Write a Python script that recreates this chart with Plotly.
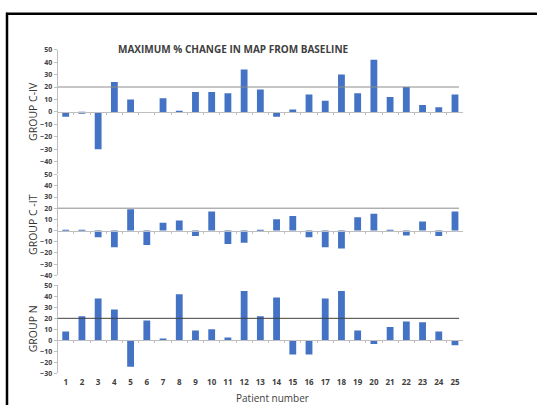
import plotly.graph_objects as go

W, H = 537, 409

patients = list(range(1, 26))
group_c_iv = [-4, -1, -30, 24, 10, 0, 11, 1, 16, 16, 15, 34, 18, -4, 2, 14, 9, 30, 15, 42, 12, 20, 5.5, 3.7, 14]
group_c_it = [0.5, 0.5, -6, -15, 19, -13, 7, 9, -5, 17, -12, -11, 0.5, 10, 13, -6, -15, -16, 12, 15, 0.5, -4.5, 8, -5, 17]
group_n = [8, 22, 38, 28, -24, 18, 1, 42, 9, 10, 2.5, 45, 22, 39, -13, -13, 38, 45, 9, -3.5, 12, 17, 16.5, 8, -4.5]
THRESHOLD = 20

panel_titles = ["GROUP C-IV", "GROUP C -IT", "GROUP N"]
panel_values = [group_c_iv, group_c_it, group_n]
panel_ranges = [[-50, 50], [-40, 50], [-30, 50]]
tick_lists = [list(range(-40, 51, 10)), list(range(-40, 51, 10)), list(range(-30, 51, 10))]

BAR = "#4472C4"
AX = "#BFBFBF"
TXT = "#404040"


def py(pix):
    # pixel row -> paper fraction
    return (H - pix) / H


def px(pix):
    return pix / W


x_dom = [px(57.6), px(463.1)]
# (top pixel of range max, bottom pixel of range min) per panel
panel_pix = [(45.7, 172.9), (173.5, 276.3), (286.7, 376.5)]
threshold_colors = ["#8C8C8C", "#8C8C8C", "#404040"]

fig = go.Figure()
layout = dict(
    width=W, height=H,
    margin=dict(l=0, r=0, t=0, b=0),
    paper_bgcolor="white", plot_bgcolor="white",
    showlegend=False, bargap=0.58,
    shapes=[], annotations=[],
)

for i, (vals, rng, ticks, (top, bot)) in enumerate(zip(panel_values, panel_ranges, tick_lists, panel_pix)):
    n = i + 1
    xa = "x" if n == 1 else f"x{n}"
    ya = "y" if n == 1 else f"y{n}"
    xk = "xaxis" if n == 1 else f"xaxis{n}"
    yk = "yaxis" if n == 1 else f"yaxis{n}"
    dom = [py(bot), py(top)]
    zero_pos = dom[0] + (0 - rng[0]) / (rng[1] - rng[0]) * (dom[1] - dom[0])

    fig.add_trace(go.Bar(x=patients, y=vals, xaxis=xa, yaxis=ya,
                         marker=dict(color=BAR, line=dict(width=0))))

    layout[yk] = dict(
        domain=dom, range=rng, anchor=xa, tickvals=ticks,
        showgrid=False, zeroline=False, showline=True, linecolor=AX, linewidth=1,
        ticks="outside", ticklen=3, tickcolor=AX,
        tickfont=dict(family="Open Sans", size=7, color=TXT, weight="bold"),
    )
    # category axis sitting on the zero line, with marks between patients
    layout[xk] = dict(
        domain=x_dom, range=[0.5, 25.5], anchor="free", position=zero_pos,
        showgrid=False, zeroline=False, showline=True, linecolor=AX, linewidth=1,
        tickvals=[k + 0.5 for k in range(1, 25)], ticks="outside", ticklen=2,
        tickcolor=AX, showticklabels=False,
    )

    layout["shapes"].append(dict(
        type="line", xref=xa, yref=ya, x0=0.5, x1=25.25, y0=THRESHOLD, y1=THRESHOLD,
        line=dict(color=threshold_colors[i], width=1),
    ))
    layout["annotations"].append(dict(
        text=panel_titles[i], xref="paper", yref="paper",
        x=px(33), y=(dom[0] + dom[1]) / 2, textangle=-90, showarrow=False,
        font=dict(family="Open Sans", size=10.5, color="#333333"),
        xanchor="center", yanchor="middle",
    ))

# patient numbers under the last panel (an invisible trace keeps this axis drawn)
fig.add_trace(go.Scatter(x=patients, y=[None] * len(patients), xaxis="x4", yaxis="y3",
                         mode="markers", marker=dict(opacity=0), hoverinfo="skip"))
layout["xaxis4"] = dict(
    domain=x_dom, range=[0.5, 25.5], anchor="y3", overlaying="x3", side="bottom",
    tickvals=patients, ticktext=[str(p) for p in patients],
    showline=False, showgrid=False, zeroline=False, ticks="",
    tickfont=dict(family="Open Sans", size=8, color=TXT, weight="bold"),
    ticklabelstandoff=3,
)

layout["annotations"] += [
    dict(text="MAXIMUM % CHANGE IN MAP FROM BASELINE", xref="paper", yref="paper",
         x=px(233), y=py(45), showarrow=False,
         font=dict(family="Open Sans", size=10, color=TXT, weight="bold"),
         xanchor="center", yanchor="middle"),
    dict(text="Patient number", xref="paper", yref="paper",
         x=px(272), y=0, showarrow=False,
         font=dict(family="Open Sans", size=10, color=TXT),
         xanchor="center", yanchor="bottom", yshift=-2),
]

# outer frame (left and top edges)
layout["shapes"] += [
    dict(type="line", xref="paper", yref="paper", x0=px(7), x1=px(7), y0=0, y1=py(8),
         line=dict(color="black", width=2.5)),
    dict(type="line", xref="paper", yref="paper", x0=px(6), x1=1, y0=py(9), y1=py(9),
         line=dict(color="black", width=2.5)),
]

fig.update_layout(**layout)
fig.write_html("out.html")
